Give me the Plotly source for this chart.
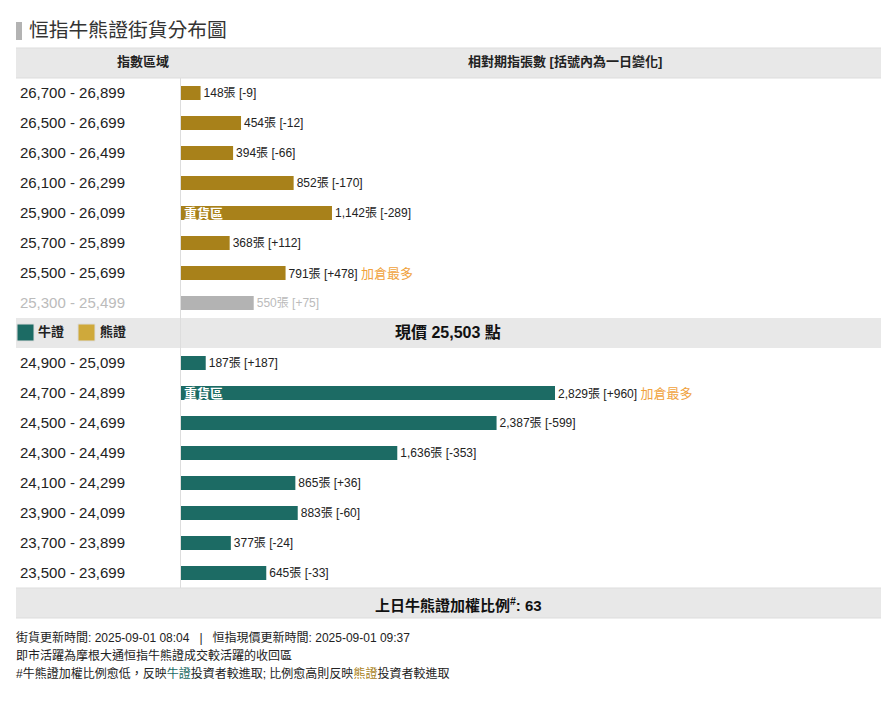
import plotly.graph_objects as go

# rows, top to bottom
bear_ranges = ['26,700 - 26,899', '26,500 - 26,699', '26,300 - 26,499', '26,100 - 26,299',
               '25,900 - 26,099', '25,700 - 25,899', '25,500 - 25,699']
bear_values = [148, 454, 394, 852, 1142, 368, 791]
bear_changes = [-9, -12, -66, -170, -289, 112, 478]

near_ranges = ['25,300 - 25,499']
near_values = [550]
near_changes = [75]

bull_ranges = ['24,900 - 25,099', '24,700 - 24,899', '24,500 - 24,699', '24,300 - 24,499',
               '24,100 - 24,299', '23,900 - 24,099', '23,700 - 23,899', '23,500 - 23,699']
bull_values = [187, 2829, 2387, 1636, 865, 883, 377, 645]
bull_changes = [187, 960, -599, -353, 36, -60, -24, -33]

heavy_rows = ['25,900 - 26,099', '24,700 - 24,899']
most_added_rows = ['25,500 - 25,699', '24,700 - 24,899']
price_row = '現價'

BEAR = '#A8811A'
BULL = '#1C6B64'
NEAR = '#B3B3B3'
BAND = '#E8E8E8'
EDGE = '#DDDDDD'
ORANGE = '#F0A23C'
FONT = 'Liberation Sans, Noto Sans CJK TC, sans-serif'

W, H = 891, 706
LEFT, RIGHT, TOP, BOTTOM = 181, 881, 78, 588


def px(x):
    return (x - LEFT) / (RIGHT - LEFT)


def py(y):
    return (BOTTOM - y) / (BOTTOM - TOP)


def bar_text(rows, values, changes):
    out = []
    for row, v, c in zip(rows, values, changes):
        label = f'{v:,}張 [{c:+d}]'
        if row in most_added_rows:
            label += f' <span style="color:{ORANGE};font-size:13px">加倉最多</span>'
        out.append(label)
    return out


categories = bear_ranges + near_ranges + [price_row] + bull_ranges

fig = go.Figure()
for rows, values, changes, color, text_color in [
    (bear_ranges, bear_values, bear_changes, BEAR, '#222222'),
    (near_ranges, near_values, near_changes, NEAR, '#BBBBBB'),
    (bull_ranges, bull_values, bull_changes, BULL, '#222222'),
]:
    fig.add_trace(go.Bar(
        x=values, y=rows, orientation='h', width=14 / 30,
        marker=dict(color=color, line=dict(width=0)),
        text=bar_text(rows, values, changes),
        textposition='outside', cliponaxis=False, constraintext='none',
        textfont=dict(family=FONT, size=12, color=text_color),
        showlegend=False
    ))

# grey header, price and footer bands
for y0, y1 in [(48, 78), (318, 348), (588, 618)]:
    fig.add_shape(type='rect', xref='paper', yref='paper', layer='below',
                  x0=px(16), x1=px(881), y0=py(y0), y1=py(y1),
                  fillcolor=BAND, line=dict(width=0))
    for y in (y0, y1):
        if y0 != 318:
            fig.add_shape(type='line', xref='paper', yref='paper', layer='below',
                          x0=px(16), x1=px(881), y0=py(y), y1=py(y),
                          line=dict(color=EDGE, width=1))

# title marker and legend swatches
fig.add_shape(type='rect', xref='paper', yref='paper', x0=px(16), x1=px(22), y0=py(22), y1=py(40),
              fillcolor='#B3B3B3', line=dict(width=0))
fig.add_shape(type='rect', xref='paper', yref='paper', x0=px(17), x1=px(34), y0=py(324), y1=py(341),
              fillcolor=BULL, line=dict(color='#DDDDDD', width=1))
fig.add_shape(type='rect', xref='paper', yref='paper', x0=px(78), x1=px(95), y0=py(324), y1=py(341),
              fillcolor='#CFA93B', line=dict(color='#DDDDDD', width=1))


def note(x, y, text, size=12, color='#222222', anchor='left'):
    # annotation boxes carry a little padding, so left-anchored text starts 2px in
    x = x - 2 if anchor == 'left' else x
    fig.add_annotation(xref='paper', yref='paper', x=px(x), y=py(y), text=text, showarrow=False,
                       xanchor=anchor, yanchor='middle', align='left',
                       font=dict(family=FONT, size=size, color=color))


note(29, 30, '恒指牛熊證街貨分布圖', size=19.8, color='#333333')
note(143, 62, '<b>指數區域</b>', size=13, anchor='center')
note(565, 62, '<b>相對期指張數 [括號內為一日變化]</b>', size=13, anchor='center')
note(38, 331, '<b>牛證</b>', size=13)
note(100, 331, '<b>熊證</b>', size=13)
note(448, 332, '<b>現價 25,503 點</b>', size=16, color='#111111', anchor='center')
note(458, 604, '<b>上日牛熊證加權比例<sup>#</sup>: 63</b>', size=15, color='#111111', anchor='center')
note(16, 637, '街貨更新時間: 2025-09-01 08:04 &nbsp; | &nbsp; 恒指現價更新時間: 2025-09-01 09:37')
note(16, 655, '即市活躍為摩根大通恒指牛熊證成交較活躍的收回區')
note(16, 673, f'#牛熊證加權比例愈低，反映<span style="color:{BULL}">牛證</span>投資者較進取; '
              f'比例愈高則反映<span style="color:{BEAR}">熊證</span>投資者較進取')

for row in heavy_rows:
    fig.add_annotation(x=0, y=row, text='<b>重貨區</b>', showarrow=False, xanchor='left', xshift=1,
                       font=dict(family=FONT, size=13, color='white'))

tick_rows = [c for c in categories if c != price_row]
tick_text = [f'<span style="color:#BBBBBB">{c}</span>' if c in near_ranges else c for c in tick_rows]

fig.update_layout(
    width=W, height=H,
    margin=dict(l=LEFT, r=W - RIGHT, t=TOP, b=H - BOTTOM, pad=0),
    paper_bgcolor='white', plot_bgcolor='rgba(0,0,0,0)',
    barmode='overlay',
    xaxis=dict(range=[0, 700 / (374 / 2829)], visible=False, fixedrange=True),
    yaxis=dict(type='category', categoryorder='array', categoryarray=categories,
               range=[len(categories) - 0.5, -0.5],
               tickmode='array', tickvals=tick_rows, ticktext=tick_text,
               ticks='', ticklabelstandoff=52, showgrid=False, zeroline=False,
               showline=True, linecolor=EDGE, linewidth=1,
               tickfont=dict(family=FONT, size=15, color='#222222'), fixedrange=True),
)

fig.write_html('out.html', config=dict(displayModeBar=False),
               post_script="document.body.style.margin='0';")
